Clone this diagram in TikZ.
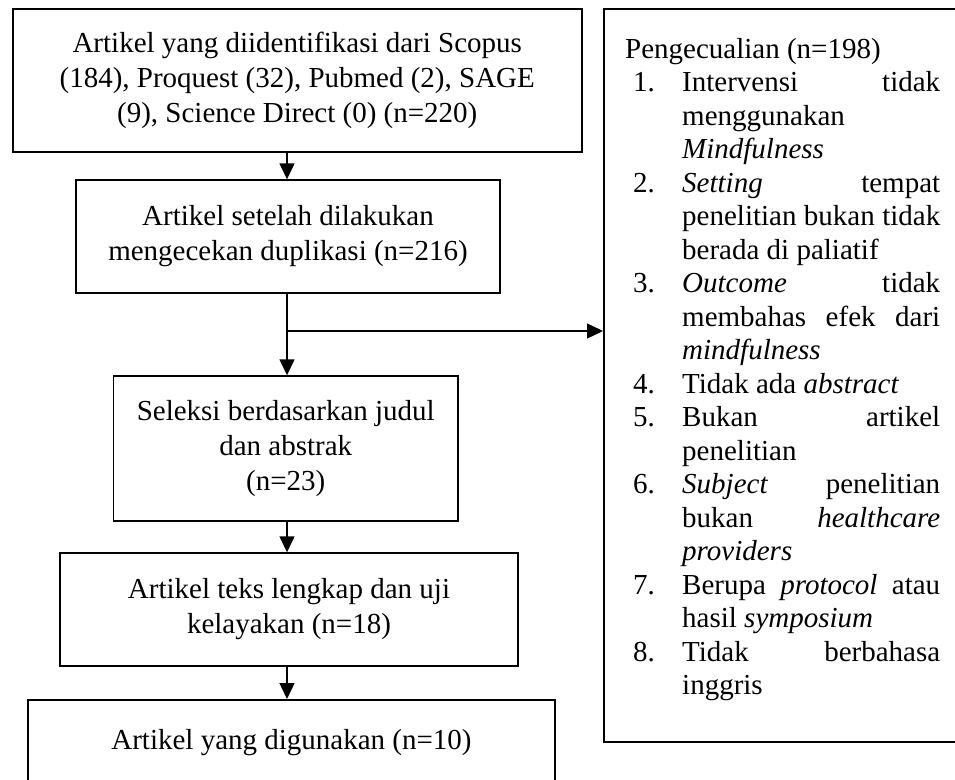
\documentclass[tikz,border=0pt]{standalone}
\usepackage{fontspec}
\setmainfont{Liberation Serif}
\usetikzlibrary{arrows.meta}
\newcommand\exitem[2]{\par\hangindent=57pt\hangafter=1\noindent\makebox[57pt][l]{\hspace{8pt}#1.}#2}
\begin{document}
\begin{tikzpicture}[x=1pt,y=1pt,
    box/.style={draw,line width=1.4pt,inner sep=0pt,align=center,font=\fontsize{29}{35}\selectfont},
    arr/.style={line width=1.4pt,-{Triangle[length=16pt,width=15pt]}}]
    \useasboundingbox (0,0) rectangle (955,-779);
    \clip (0,0) rectangle (955,-779);
    \node[box,line width=2pt,minimum width=569.5pt,minimum height=143pt] (src) at (297.25,-80.5) {Artikel yang diidentifikasi dari Scopus\\(184), Proquest (32), Pubmed (2), SAGE\\(9), Science Direct (0) (n=220)};
    \node[box,minimum width=424pt,minimum height=113pt] (dup) at (288,-236.5) {Artikel setelah dilakukan\\mengecekan duplikasi (n=216)};
    \node[box,minimum width=344.5pt,minimum height=145pt] (screen) at (285.75,-448.5) {Seleksi berdasarkan judul\\dan abstrak\\(n=23)};
    \node[box,minimum width=458pt,minimum height=113pt] (full) at (289,-609.5) {Artikel teks lengkap dan uji\\kelayakan (n=18)};
    \node[box,line width=2pt,minimum width=527pt,minimum height=86pt] (incl) at (291.5,-743) {Artikel yang digunakan (n=10)};
    \node[draw,line width=2pt,minimum width=376pt,minimum height=733pt] (excl) at (792,-375.5) {};
    \node[anchor=base west,inner sep=0pt,text width=315pt,align=justify,font=\fontsize{29}{33.5}\selectfont] (excltxt) at (625,-58) {%
        \tolerance=10000\hyphenpenalty=10000\parskip=0pt
        \noindent Pengecualian (n=198)
        \exitem{1}{Intervensi tidak \linebreak menggunakan \linebreak \textit{Mindfulness}}
        \exitem{2}{\textit{Setting} tempat \linebreak penelitian bukan tidak \linebreak berada di paliatif}
        \exitem{3}{\textit{Outcome} tidak \linebreak membahas efek dari \linebreak \textit{mindfulness}}
        \exitem{4}{Tidak ada \textit{abstract}}
        \exitem{5}{Bukan artikel \linebreak penelitian}
        \exitem{6}{\textit{Subject} penelitian \linebreak bukan \textit{healthcare} \linebreak \textit{providers}}
        \exitem{7}{Berupa \textit{protocol} atau \linebreak hasil \textit{symposium}}
        \exitem{8}{Tidak berbahasa \linebreak inggris}\par};
    \coordinate (split) at (287,-331);
    \draw[arr] (src.south -| split) -- (dup.north -| split);
    \draw[line width=1.4pt] (dup.south -| split) -- (split);
    \draw[arr] (split) -- (split -| excl.west);
    \draw[arr] (split) -- (screen.north -| split);
    \draw[arr] (screen.south -| split) -- (full.north -| split);
    \draw[arr] (full.south -| split) -- (incl.north -| split);
\end{tikzpicture}
\end{document}
